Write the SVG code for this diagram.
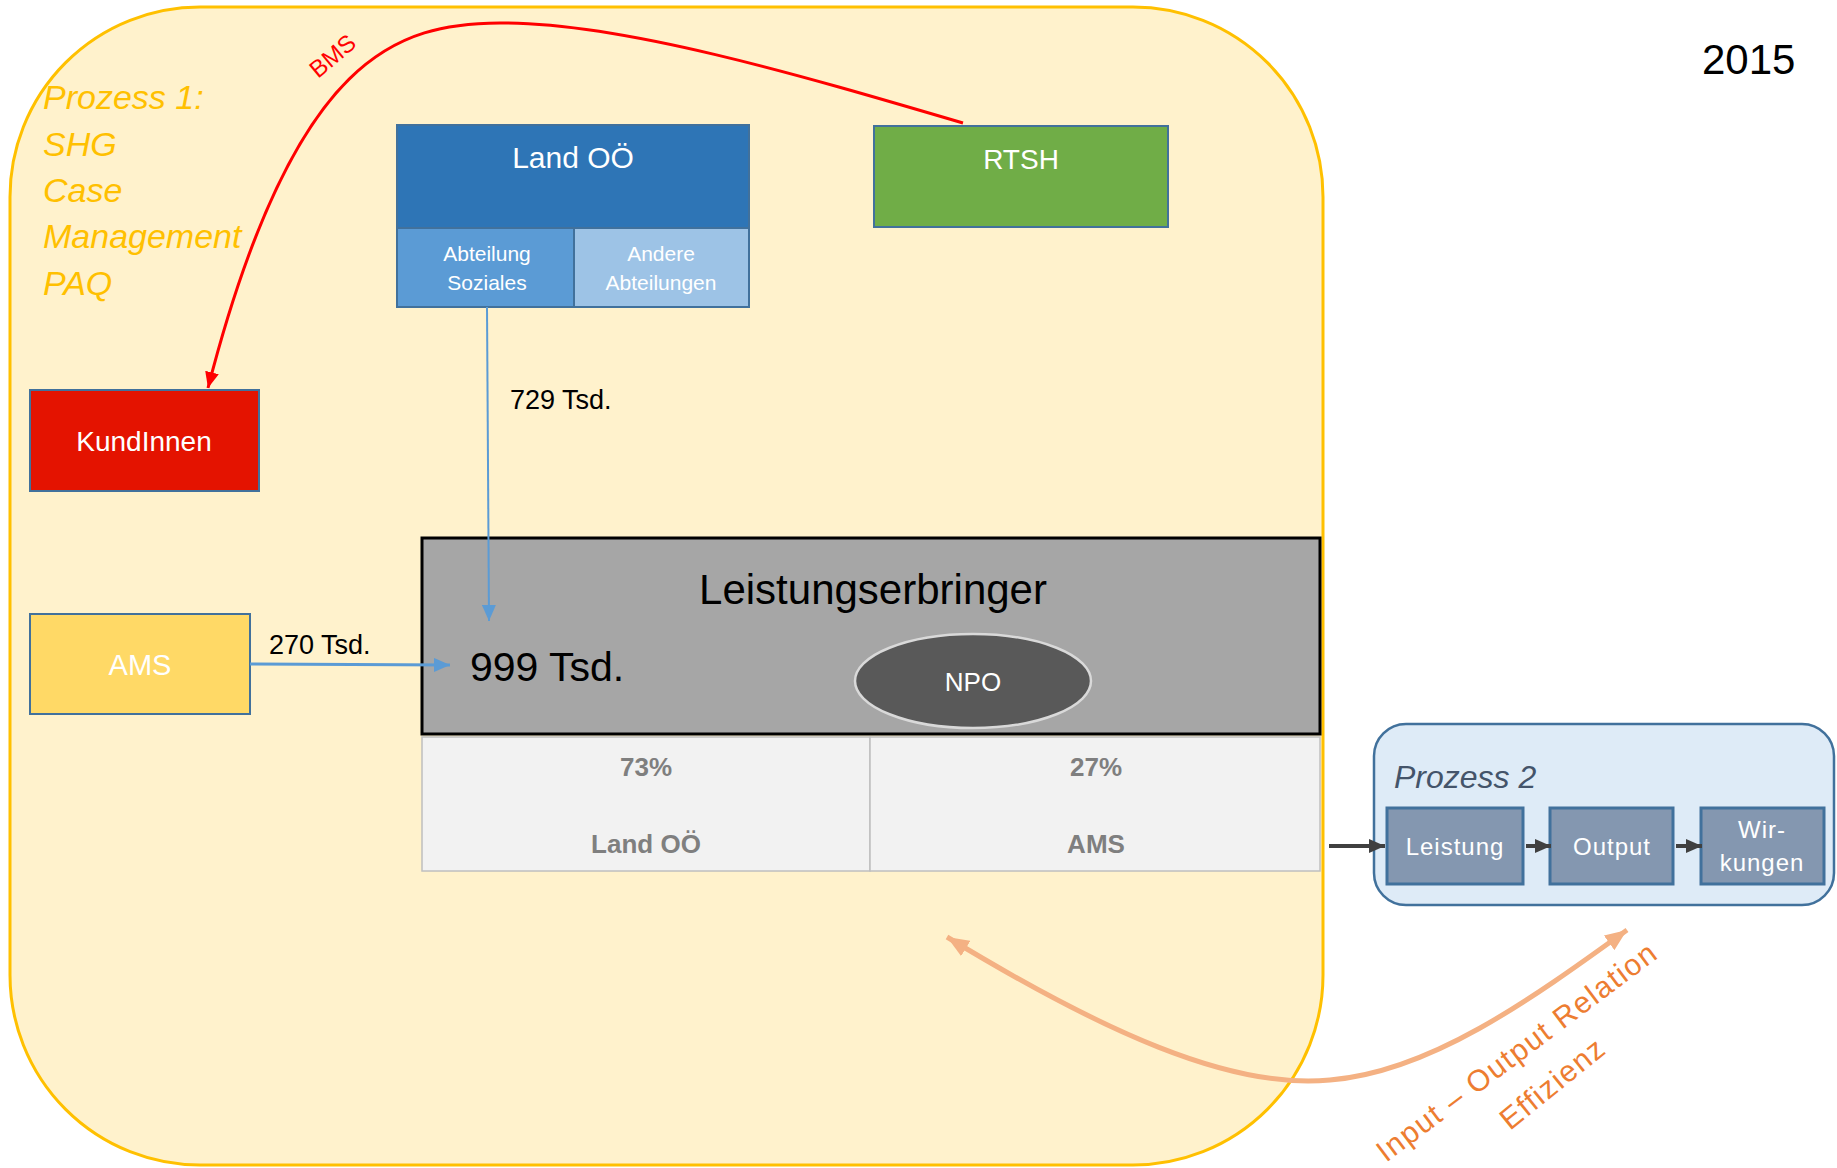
<svg xmlns="http://www.w3.org/2000/svg" width="1837" height="1168" viewBox="0 0 1837 1168">
<style>
text{font-family:"Liberation Sans",Arial,sans-serif}
.w{fill:#fff}
.c{text-anchor:middle}
.p1{fill:#FFC000;font-style:italic;font-size:34px}
.tbl{fill:#7F7F7F;font-weight:bold;font-size:26px;text-anchor:middle}
.sb{fill:#8497B0;stroke:#41719C;stroke-width:3}
.sbt{fill:#fff;font-size:24px;letter-spacing:1px;text-anchor:middle}
</style>
<defs>
<marker id="ab" markerUnits="userSpaceOnUse" markerWidth="16" markerHeight="14" refX="16" refY="7" orient="auto"><path d="M0,0 L16,7 L0,14 Z" fill="#5B9BD5"/></marker>
<marker id="ar" markerUnits="userSpaceOnUse" markerWidth="16" markerHeight="14" refX="16" refY="7" orient="auto"><path d="M0,0 L16,7 L0,14 Z" fill="#FF0000"/></marker>
<marker id="ag" markerUnits="userSpaceOnUse" markerWidth="16" markerHeight="14" refX="16" refY="7" orient="auto"><path d="M0,0 L16,7 L0,14 Z" fill="#404040"/></marker>
<marker id="ao" markerUnits="userSpaceOnUse" markerWidth="22" markerHeight="18" refX="22" refY="9" orient="auto-start-reverse"><path d="M0,0 L22,9 L0,18 Z" fill="#F4B183"/></marker>
</defs>
<rect width="1837" height="1168" fill="#fff"/>
<g id="prozess1">
<rect x="10" y="7" width="1313" height="1158" rx="190" ry="190" fill="#FFF2CC" stroke="#FFC000" stroke-width="3"/>
<text class="p1" x="43" y="109">Prozess 1:</text>
<text class="p1" x="43" y="156">SHG</text>
<text class="p1" x="43" y="202">Case</text>
<text class="p1" x="43" y="248">Management</text>
<text class="p1" x="43" y="295">PAQ</text>
</g>
<g id="land">
<rect x="397" y="125" width="352" height="103" fill="#2E75B6" stroke="#41719C" stroke-width="2"/>
<text class="w c" x="573" y="168" font-size="30">Land OÖ</text>
</g>
<g id="abteilung-soziales">
<rect x="397" y="228" width="177" height="79" fill="#5B9BD5" stroke="#41719C" stroke-width="2"/>
<text class="w c" x="487" y="261" font-size="21">Abteilung</text>
<text class="w c" x="487" y="290" font-size="21">Soziales</text>
</g>
<g id="andere-abteilungen">
<rect x="574" y="228" width="175" height="79" fill="#9DC3E6" stroke="#41719C" stroke-width="2"/>
<text class="w c" x="661" y="261" font-size="21">Andere</text>
<text class="w c" x="661" y="290" font-size="21">Abteilungen</text>
</g>
<g id="rtsh">
<rect x="874" y="126" width="294" height="101" fill="#70AD47" stroke="#41719C" stroke-width="2"/>
<text class="w c" x="1021" y="169" font-size="28">RTSH</text>
</g>
<g id="kundinnen">
<rect x="30" y="390" width="229" height="101" fill="#E41300" stroke="#41719C" stroke-width="2"/>
<text class="w c" x="144" y="451" font-size="28">KundInnen</text>
</g>
<g id="ams">
<rect x="30" y="614" width="220" height="100" fill="#FFD966" stroke="#41719C" stroke-width="2"/>
<text class="w c" x="140" y="675" font-size="29">AMS</text>
</g>
<g id="leistungserbringer">
<rect x="422" y="538" width="898" height="196" fill="#A6A6A6" stroke="#000" stroke-width="3"/>
<text class="c" x="873" y="604" font-size="42">Leistungserbringer</text>
<text x="470" y="681" font-size="41">999 Tsd.</text>
</g>
<g id="npo">
<ellipse cx="973" cy="681" rx="118" ry="47" fill="#595959" stroke="#D9D9D9" stroke-width="2.5"/>
<text class="w c" x="973" y="691" font-size="26">NPO</text>
</g>
<g id="anteile">
<rect x="422" y="737" width="448" height="134" fill="#F2F2F2" stroke="#BFBFBF" stroke-width="1.5"/>
<rect x="870" y="737" width="450" height="134" fill="#F2F2F2" stroke="#BFBFBF" stroke-width="1.5"/>
<text class="tbl" x="646" y="776">73%</text>
<text class="tbl" x="646" y="853">Land OÖ</text>
<text class="tbl" x="1096" y="776">27%</text>
<text class="tbl" x="1096" y="853">AMS</text>
</g>
<g id="prozess2">
<rect x="1374" y="724" width="460" height="181" rx="32" ry="32" fill="#DEEBF7" stroke="#41719C" stroke-width="2.5"/>
<text x="1394" y="788" font-size="32" font-style="italic" fill="#44546A">Prozess 2</text>
</g>
<g id="leistung">
<rect class="sb" x="1387" y="808" width="136" height="76"/>
<text class="sbt" x="1455" y="855">Leistung</text>
</g>
<g id="output">
<rect class="sb" x="1550" y="808" width="123" height="76"/>
<text class="sbt" x="1612" y="855">Output</text>
</g>
<g id="wirkungen">
<rect class="sb" x="1701" y="808" width="123" height="76"/>
<text class="sbt" x="1762" y="838">Wir-</text>
<text class="sbt" x="1762" y="871">kungen</text>
</g>
<text x="1702" y="74" font-size="42">2015</text>
<g id="connectors" fill="none">
<path d="M487,307 L489,621" stroke="#5B9BD5" stroke-width="2" marker-end="url(#ab)"/>
<path d="M250,664 L450,665" stroke="#5B9BD5" stroke-width="3" marker-end="url(#ab)"/>
<path d="M963,123 C800,75 620,22 500,23 C400,24 295,50 208,388" stroke="#FF0000" stroke-width="3" marker-end="url(#ar)"/>
<path d="M1329,846 L1385,846" stroke="#404040" stroke-width="4" marker-end="url(#ag)"/>
<path d="M1526,846 L1551,846" stroke="#404040" stroke-width="4" marker-end="url(#ag)"/>
<path d="M1676,846 L1702,846" stroke="#404040" stroke-width="4" marker-end="url(#ag)"/>
<path d="M947,937 C1100,1030 1230,1090 1330,1080 C1430,1072 1530,1000 1627,930" stroke="#F4B183" stroke-width="5" marker-start="url(#ao)" marker-end="url(#ao)"/>
<text transform="translate(318,79) rotate(-40)" font-size="24" fill="#FF0000">BMS</text>
<text x="510" y="409" font-size="27" fill="#000">729 Tsd.</text>
<text x="269" y="654" font-size="27" fill="#000">270 Tsd.</text>
<text transform="translate(1386,1163) rotate(-37)" font-size="30" letter-spacing="1.5" fill="#ED7D31">Input – Output Relation</text>
<text transform="translate(1510,1131) rotate(-39)" font-size="30" letter-spacing="1.5" fill="#ED7D31">Effizienz</text>
</g>
</svg>
